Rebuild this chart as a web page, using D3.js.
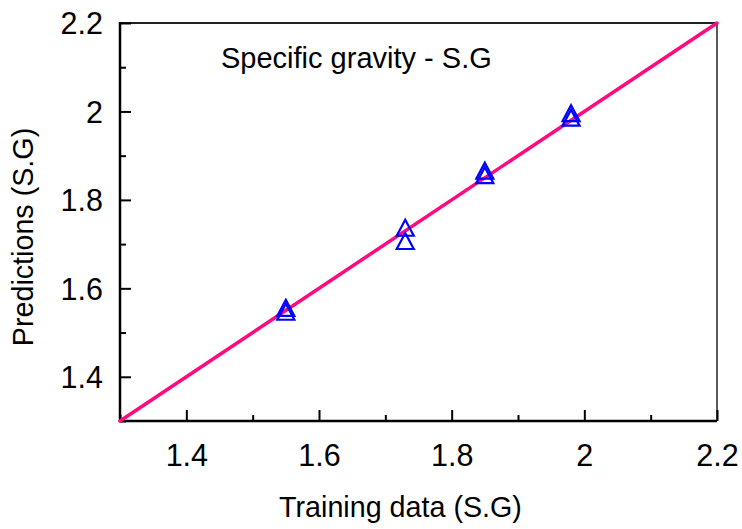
<!DOCTYPE html>
<html>
<head>
<meta charset="utf-8">
<script src="https://cdn.jsdelivr.net/npm/d3@7/dist/d3.min.js"></script>
<style>
  html, body { margin: 0; padding: 0; background: #fff; }
  svg { display: block; font-family: "Liberation Sans", Arial, sans-serif; }
</style>
</head>
<body>
<svg id="chart" width="742" height="529"></svg>
<script>
// Training data vs. predicted specific gravity
const trainingSG   = [1.55, 1.55, 1.73, 1.73, 1.85, 1.85, 1.98, 1.98];
const predictedSG  = [1.556, 1.547, 1.737, 1.707, 1.866, 1.856, 1.996, 1.986];

// Identity (y = x) reference line endpoints
const identityLine = [1.3, 2.2];

// Axis ticks
const majorTicks  = [1.4, 1.6, 1.8, 2, 2.2];
const minorTicks  = [1.3, 1.5, 1.7, 1.9, 2.1];
const tickLabels  = ["1.4", "1.6", "1.8", "2", "2.2"];

const svg = d3.select("#chart");
const plotLeft = 120, plotRight = 717, plotTop = 23, plotBottom = 421;

const x = d3.scaleLinear().domain([1.3, 2.2]).range([plotLeft, plotRight]);
const y = d3.scaleLinear().domain([1.3, 2.2]).range([plotBottom, plotTop]);

const fmt = d => tickLabels[majorTicks.indexOf(d)] ?? "";

// Frame: thin top and right borders
svg.append("line").attr("x1", plotLeft).attr("x2", plotRight).attr("y1", plotTop).attr("y2", plotTop)
  .attr("stroke", "#222").attr("stroke-width", 2);
svg.append("line").attr("x1", plotRight).attr("x2", plotRight).attr("y1", plotTop).attr("y2", plotBottom)
  .attr("stroke", "#222").attr("stroke-width", 1.5);

// Bottom axis: inward ticks
const gx = svg.append("g").attr("transform", `translate(0,${plotBottom})`);
gx.append("g").call(d3.axisBottom(x).tickValues(minorTicks).tickSize(-6).tickFormat(""))
  .call(g => g.select(".domain").remove());
gx.append("g").call(d3.axisBottom(x).tickValues(majorTicks).tickSize(-11).tickFormat(fmt))
  .call(g => g.select(".domain").remove())
  .call(g => g.selectAll("text").attr("y", 45).attr("dy", 0)
    .attr("font-size", 30.5).attr("font-family", "Liberation Sans, Arial, sans-serif").attr("fill", "#000"));
gx.selectAll(".tick line").attr("stroke", "#000").attr("stroke-width", 2);

// Left axis: inward ticks
const gy = svg.append("g").attr("transform", `translate(${plotLeft},0)`);
gy.append("g").call(d3.axisLeft(y).tickValues(minorTicks).tickSize(-6).tickFormat(""))
  .call(g => g.select(".domain").remove());
gy.append("g").call(d3.axisLeft(y).tickValues(majorTicks).tickSize(-11).tickFormat(fmt))
  .call(g => g.select(".domain").remove())
  .call(g => g.selectAll("text").attr("x", -17).attr("dy", "0.36em")
    .attr("font-size", 30.5).attr("font-family", "Liberation Sans, Arial, sans-serif").attr("fill", "#000"));
gy.selectAll(".tick line").attr("stroke", "#000").attr("stroke-width", 2);

// Axis lines
svg.append("line").attr("x1", plotLeft).attr("x2", plotRight).attr("y1", plotBottom).attr("y2", plotBottom)
  .attr("stroke", "#000").attr("stroke-width", 2.5);
svg.append("line").attr("x1", plotLeft).attr("x2", plotLeft).attr("y1", plotTop - 1).attr("y2", plotBottom + 1)
  .attr("stroke", "#000").attr("stroke-width", 2.5);

// Identity line
svg.append("line")
  .attr("x1", x(identityLine[0])).attr("y1", y(identityLine[0]))
  .attr("x2", x(identityLine[1])).attr("y2", y(identityLine[1]))
  .attr("stroke", "#ff0a80").attr("stroke-width", 3.5).attr("stroke-linecap", "round");

// Open triangle markers
const tw = 17, th = 16;
const tri = `M0,${-th / 2}L${tw / 2},${th / 2}L${-tw / 2},${th / 2}Z`;
svg.append("g").selectAll("path")
  .data(d3.range(trainingSG.length))
  .join("path")
  .attr("d", tri)
  .attr("transform", i => `translate(${x(trainingSG[i])},${y(predictedSG[i])})`)
  .attr("fill", "none").attr("stroke", "#0000ff").attr("stroke-width", 2.2)
  .attr("stroke-linejoin", "miter");

// Annotation and axis titles
svg.append("text").attr("x", 221).attr("y", 68)
  .attr("font-size", 29).attr("fill", "#000").text("Specific gravity - S.G");

svg.append("text").attr("x", 400.5).attr("y", 517).attr("text-anchor", "middle")
  .attr("font-size", 28.7).attr("fill", "#000").text("Training data (S.G)");

svg.append("text").attr("transform", "translate(33,237) rotate(-90)")
  .attr("text-anchor", "middle")
  .attr("font-size", 28.7).attr("fill", "#000").text("Predictions (S.G)");
</script>
</body>
</html>
